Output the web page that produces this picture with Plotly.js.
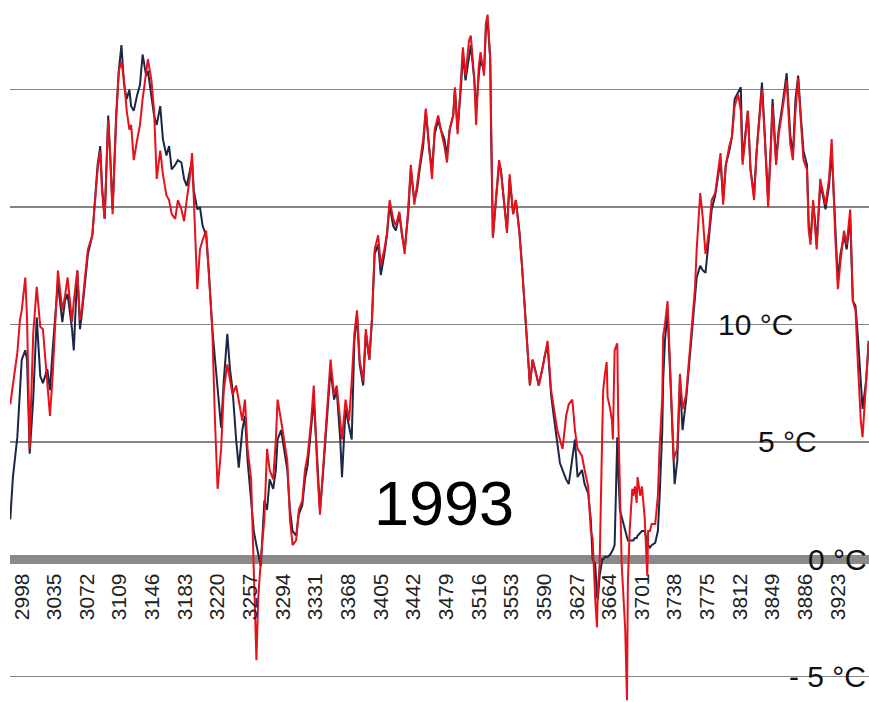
<!DOCTYPE html>
<html>
<head>
<meta charset="utf-8">
<script src="https://cdn.plot.ly/plotly-3.0.1.min.js"></script>
<style>
html,body{margin:0;padding:0;background:#fff;overflow:hidden;}
#chart{width:869px;height:702px;}
</style>
</head>
<body>
<div id="chart"></div>
<script>
// Day index (x axis) shared by both series
const days = [2985,2988,2993,2996,2998,3002,3004,3007,3011,3015,3019,3022,3027,3030,3033,3039,3044,3047,3050,3055,3057,3061,3064,3066,3070,3073,3078,3081,3084,3087,3089,3092,3096,3098,3101,3105,3108,3111,3114,3117,3120,3122,3125,3129,3132,3135,3139,3141,3145,3148,3151,3155,3158,3162,3165,3168,3172,3175,3179,3182,3185,3189,3191,3193,3197,3200,3203,3207,3210,3214,3217,3220,3224,3227,3231,3234,3237,3241,3244,3248,3251,3254,3258,3261,3264,3266,3269,3273,3276,3279,3283,3286,3288,3292,3295,3299,3302,3305,3309,3312,3316,3319,3322,3326,3329,3333,3336,3339,3343,3346,3348,3352,3355,3359,3361,3365,3369,3372,3375,3378,3381,3385,3388,3392,3395,3398,3402,3405,3409,3412,3415,3419,3422,3426,3429,3432,3436,3439,3443,3446,3449,3453,3456,3460,3463,3466,3470,3473,3477,3480,3483,3487,3489,3492,3496,3498,3501,3505,3507,3511,3513,3516,3518,3522,3524,3526,3529,3530,3532,3535,3539,3541,3545,3548,3551,3555,3558,3562,3565,3568,3571,3574,3577,3581,3584,3588,3591,3594,3598,3601,3605,3608,3611,3615,3618,3622,3625,3628,3633,3636,3640,3643,3645,3648,3650,3651,3653,3656,3657,3659,3661,3662,3665,3667,3668,3670,3673,3674,3676,3678,3682,3684,3685,3687,3690,3691,3693,3695,3696,3699,3701,3704,3707,3708,3710,3712,3716,3719,3721,3724,3725,3727,3730,3734,3737,3738,3741,3744,3747,3751,3754,3758,3761,3763,3767,3770,3773,3777,3780,3784,3787,3790,3793,3796,3800,3803,3806,3810,3813,3815,3819,3821,3824,3828,3831,3835,3837,3840,3844,3847,3849,3853,3856,3860,3863,3865,3869,3872,3875,3878,3881,3884,3888,3890,3892,3895,3897,3899,3903,3906,3909,3913,3916,3920,3923,3926,3930,3933,3937,3940,3943,3946,3949,3951,3955,3958];

// Red series (°C)
const redTemps = [6.6,7.5,8.8,10.2,10.6,12.0,10.3,4.7,9.6,11.6,9.9,9.8,7.5,6.1,7.8,12.3,10.6,11.2,12.0,10.1,11.0,12.3,10.2,10.6,12.1,13.2,13.8,15.3,16.6,17.4,15.7,14.5,18.7,17.4,14.7,18.7,20.8,21.2,20.4,19.1,18.3,18.5,17.0,17.9,18.5,19.6,20.8,21.3,20.4,19.1,16.2,17.4,16.4,15.5,15.3,14.7,14.5,15.3,14.9,14.4,15.3,16.4,17.3,15.3,11.5,13.2,13.6,14.0,12.3,9.8,5.9,3.0,4.7,7.2,8.3,7.6,7.0,7.4,6.8,5.9,6.8,4.7,3.4,0.0,-4.3,-1.7,0.0,1.7,4.7,3.8,3.4,5.1,6.8,5.9,5.1,4.2,1.7,0.6,0.8,2.1,2.5,3.8,4.4,5.9,7.4,3.8,1.9,3.6,5.9,7.6,8.5,7.0,7.4,5.9,5.1,6.8,5.9,7.6,9.6,10.6,8.5,7.6,9.8,8.5,10.3,13.2,13.8,12.5,13.2,13.9,15.3,14.5,14.2,14.8,14.0,13.0,14.9,16.8,15.1,15.9,16.7,17.9,19.2,17.4,16.2,18.3,18.9,18.3,17.6,16.9,18.3,18.9,20.1,18.1,20.4,21.8,20.6,22.1,22.3,20.4,18.5,21.0,21.6,20.6,22.8,23.2,21.3,18.1,13.7,15.1,17.0,16.6,15.1,13.9,16.4,14.7,15.3,13.9,12.5,11.0,9.1,7.4,8.5,7.9,7.4,8.1,8.7,9.3,7.2,6.4,5.5,5.1,4.7,6.1,6.6,6.8,5.5,4.7,4.4,3.8,3.1,1.2,0.9,-1.7,-2.9,-1.3,-0.2,5.5,7.2,7.9,8.4,6.9,6.4,5.9,5.1,8.9,9.2,6.2,2.7,-0.2,-3.0,-6.0,-1.0,1.2,3.0,2.7,3.1,2.4,3.5,2.7,3.1,1.8,-0.7,1.2,1.2,1.5,1.5,2.7,4.8,6.9,9.5,10.0,11.0,6.8,4.2,4.4,4.7,7.9,6.4,7.0,8.3,10.0,11.5,13.2,15.6,14.5,13.0,14.0,15.3,15.6,16.4,17.3,15.1,16.8,17.6,18.0,19.3,19.8,19.1,16.8,18.3,19.1,16.6,15.3,17.4,19.1,20.0,18.1,15.0,17.4,19.3,16.8,18.1,19.1,19.8,20.4,17.7,17.0,19.1,20.5,18.7,17.0,16.6,14.0,13.4,15.3,14.2,13.2,16.2,15.7,15.1,16.2,17.9,13.8,11.5,12.7,14.0,13.4,14.9,11.0,10.6,8.1,5.9,5.2,7.6,9.3];

// Dark blue series (°C)
const blueTemps = [1.7,3.5,5.2,7.5,8.5,8.9,8.5,4.5,6.8,10.3,7.8,7.5,8.1,7.2,8.9,11.8,10.1,11.0,11.3,9.8,8.9,12.3,9.8,10.4,12.0,13.0,13.8,15.3,16.8,17.6,15.9,14.5,18.9,17.4,14.9,18.9,20.8,21.9,20.2,19.6,20.0,19.3,19.1,19.8,20.2,21.5,20.6,20.8,19.8,18.9,18.5,19.3,17.9,17.2,17.6,16.6,16.8,17.0,16.9,16.2,15.9,16.6,17.0,15.7,14.9,15.0,14.2,13.8,12.3,9.8,8.5,7.2,5.6,7.6,9.6,8.1,7.2,5.1,3.9,5.5,6.1,4.2,2.5,1.2,0.6,0.2,-0.3,2.5,2.1,3.4,3.0,3.8,5.1,5.5,4.7,3.8,2.1,1.2,1.0,1.9,2.3,3.4,4.0,5.5,6.8,4.2,2.1,3.4,5.5,7.4,8.1,6.8,7.2,5.1,3.5,6.4,5.7,5.1,9.3,10.4,8.3,7.4,9.6,8.5,10.2,13.0,13.4,12.1,13.0,13.8,15.1,14.2,14.0,14.7,13.8,13.2,14.7,16.6,15.3,15.7,16.6,17.6,19.1,17.4,16.6,18.1,18.7,18.3,17.9,17.2,18.3,18.9,20.0,18.3,20.2,21.5,20.4,21.3,21.9,20.4,19.1,20.6,21.3,20.8,22.5,23.0,21.3,18.1,13.7,15.1,16.8,16.6,15.1,14.0,16.2,14.7,15.3,14.0,12.5,11.0,9.1,7.4,8.5,7.9,7.4,8.1,8.7,9.1,7.0,6.1,4.9,4.1,3.8,3.4,3.2,4.2,5.1,3.5,3.8,3.2,2.8,1.7,0.0,-0.2,-1.6,-1.7,-0.7,0.0,0.0,0.1,0.1,0.1,0.2,0.3,0.4,0.6,5.2,3.8,2.1,1.8,1.2,0.9,0.8,0.8,0.8,0.8,0.9,0.9,1.0,1.1,1.2,1.2,0.7,0.6,0.5,0.6,0.7,1.2,2.7,5.5,7.6,9.3,10.6,7.2,4.7,3.2,4.2,7.6,5.5,6.8,8.1,9.8,11.3,12.0,12.5,12.3,12.2,13.6,14.9,15.5,16.2,17.0,15.3,16.8,17.4,18.0,19.6,19.9,20.1,17.0,18.5,19.1,16.6,15.5,17.4,19.6,20.3,18.2,15.3,17.6,19.6,17.0,18.3,19.3,20.2,20.7,18.1,17.2,19.6,20.6,18.9,17.4,16.8,14.2,13.6,15.1,14.5,13.4,15.9,15.5,14.9,15.9,17.4,14.0,11.9,13.0,13.8,13.2,14.5,11.0,10.8,9.3,7.6,6.4,7.6,9.3];

// Axis ticks and labels
const tickStart = 2998;
const tickStep = 37;
const yearLabel = "1993";
const tempLabels = ["10 °C", "5 °C", "0 °C", "- 5 °C"];
const tempLabelY = [10, 5, 0, -5];
const tempLabelX = [3785, 3830, 3887, 3865];

const font = "Liberation Sans, Arial, sans-serif";

const traces = [
  {x: days, y: blueTemps, type: "scatter", mode: "lines", name: "blue",
   line: {color: "#1b2747", width: 2}},
  {x: days, y: redTemps, type: "scatter", mode: "lines", name: "red",
   line: {color: "#e5121b", width: 2}}
];

const annotations = tempLabels.map((t, i) => ({
  text: t, xref: "x", yref: "y", x: tempLabelX[i], y: tempLabelY[i],
  xanchor: "left", yanchor: "middle", showarrow: false,
  font: {family: font, size: 30, color: "#111"}
}));
annotations.push({
  text: yearLabel, xref: "x", yref: "y", x: 3477, y: 2.4,
  xanchor: "center", yanchor: "middle", showarrow: false,
  font: {family: font, size: 63, color: "#000"}
});

const layout = {
  width: 869, height: 702,
  margin: {l: 10, r: 0, t: 0, b: 0, pad: 0},
  paper_bgcolor: "#fff", plot_bgcolor: "#fff",
  showlegend: false,
  xaxis: {
    range: [2984.7, 3958.3],
    tickmode: "linear", tick0: tickStart, dtick: tickStep,
    tickangle: -90, ticks: "", showgrid: false, zeroline: false, showline: false,
    anchor: "free", position: 0.2033, ticklabelstandoff: 9,
    tickfont: {family: font, size: 21, color: "#222"}
  },
  yaxis: {
    range: [-6.08, 23.82], tickmode: "linear", tick0: 0, dtick: 5,
    showticklabels: false, ticks: "",
    showgrid: true, gridcolor: "#858585", gridwidth: 1.5,
    zeroline: true, zerolinecolor: "#8a8a8a", zerolinewidth: 9
  },
  annotations: annotations
};

Plotly.newPlot("chart", traces, layout, {displayModeBar: false, staticPlot: true});
</script>
</body>
</html>
